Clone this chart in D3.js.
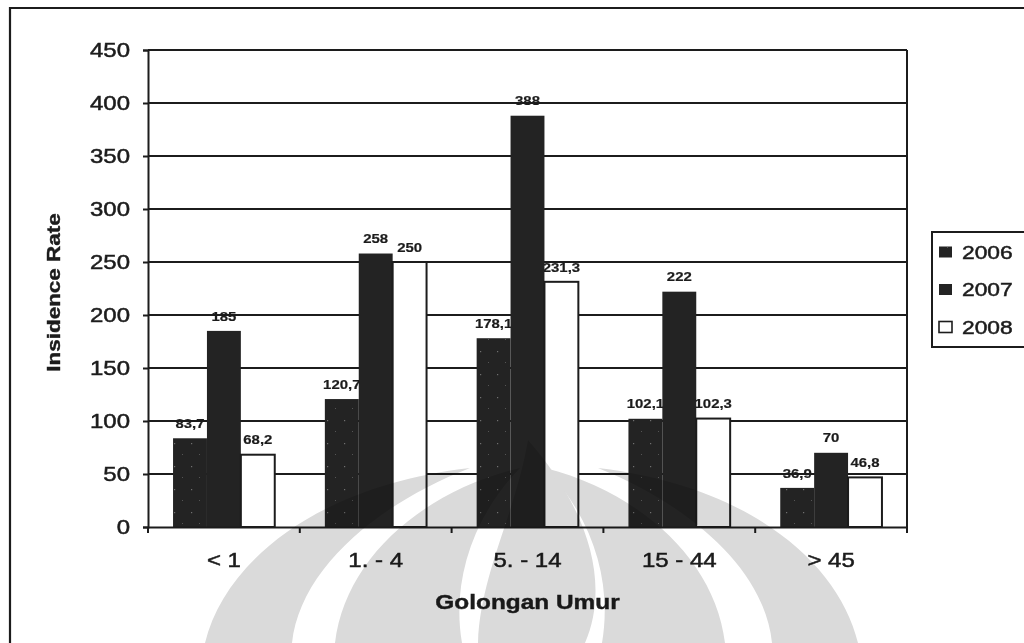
<!DOCTYPE html>
<html>
<head>
<meta charset="utf-8">
<script src="https://cdn.jsdelivr.net/npm/d3@7"></script>
<style>
  html, body { margin: 0; padding: 0; background: #fff; }
  svg { display: block; }
</style>
</head>
<body>
<svg id="chart" width="1024" height="643"></svg>
<script>
// Incidence rate per age group, 2006-2008
const categories = ["< 1", "1. - 4", "5. - 14", "15 - 44", "> 45"];
const years = ["2006", "2007", "2008"];
const values2006 = [83.7, 120.7, 178.1, 102.1, 36.9];
const values2007 = [185, 258, 388, 222, 70];
const values2008 = [68.2, 250, 231.3, 102.3, 46.8];
const yTicks = [0, 50, 100, 150, 200, 250, 300, 350, 400, 450];
const xTitle = "Golongan Umur";
const yTitle = "Insidence Rate";

const seriesValues = { "2006": values2006, "2007": values2007, "2008": values2008 };
const fmt = v => String(v).replace(".", ",");

const svg = d3.select("#chart");
const FONT = "'Liberation Sans', Arial, sans-serif";
const INK = "#1c1c1c";
const BAR = "#232323";

// text helper: wide glyphs drawn by stretching along the text direction
function label(parent, x, y, s, o = {}) {
  const g = parent.append("g")
    .attr("transform", `translate(${x},${y}) rotate(${o.rot || 0}) scale(${o.sx || 1},1)`);
  g.append("text")
    .attr("text-anchor", o.anchor || "middle")
    .attr("dy", "0.36em")
    .attr("fill", INK)
    .attr("stroke", INK)
    .attr("stroke-width", o.thick || 0.5)
    .style("font-family", FONT)
    .style("font-size", (o.size || 14) + "px")
    .style("font-weight", o.weight || "normal")
    .text(s);
  return g;
}

// pattern for the 2006 series: dark fill with sparse light specks
const defs = svg.append("defs");
const pat = defs.append("pattern").attr("id", "speck")
  .attr("width", 17).attr("height", 23).attr("patternUnits", "userSpaceOnUse");
pat.append("rect").attr("width", 17).attr("height", 23).attr("fill", BAR);
pat.append("rect").attr("x", 4).attr("y", 6).attr("width", 1.2).attr("height", 1.2).attr("fill", "#707070");
pat.append("rect").attr("x", 12).attr("y", 17).attr("width", 1).attr("height", 1).attr("fill", "#555");

// outer frame (top and left edges)
svg.append("path").attr("d", "M10,643 L10,8 L1024,8")
  .attr("fill", "none").attr("stroke", INK).attr("stroke-width", 2.2);

const plot = { left: 148, right: 907, top: 50, bottom: 527 };

const x0 = d3.scaleBand().domain(categories).range([plot.left, plot.right]);
const bw = x0.bandwidth();
const x1 = d3.scaleBand().domain(years).range([bw * 0.165, bw * 0.835]);
const y = d3.scaleLinear().domain([0, 450]).range([plot.bottom, plot.top]);

// gridlines
svg.append("g").selectAll("line").data(yTicks.filter(t => t > 0)).join("line")
  .attr("x1", plot.left).attr("x2", plot.right)
  .attr("y1", d => y(d)).attr("y2", d => y(d))
  .attr("stroke", INK).attr("stroke-width", 1.8);

// right border of plot area
svg.append("line").attr("x1", plot.right).attr("x2", plot.right)
  .attr("y1", y(450)).attr("y2", y(0)).attr("stroke", INK).attr("stroke-width", 2);

// records of each bar
const rows = [];
years.forEach(yr => categories.forEach((c, i) => rows.push({ year: yr, cat: c, v: seriesValues[yr][i] })));

// value labels (drawn beneath the bars, so neighbouring bars overlap them)
const labelG = svg.append("g");
rows.forEach(d => {
  label(labelG, x0(d.cat) + x1(d.year) + x1.bandwidth() / 2, y(d.v) - 15, fmt(d.v),
    { size: 13, weight: "bold", sx: 1.15, thick: 0.2 });
});

// bars
svg.append("g").selectAll("rect").data(rows).join("rect")
  .attr("x", d => x0(d.cat) + x1(d.year))
  .attr("y", d => y(d.v))
  .attr("width", x1.bandwidth())
  .attr("height", d => y(0) - y(d.v))
  .attr("fill", d => d.year === "2006" ? "url(#speck)" : d.year === "2007" ? BAR : "#fff")
  .attr("stroke", d => d.year === "2008" ? INK : "none")
  .attr("stroke-width", 2);

// y axis
const yAxis = svg.append("g").attr("transform", `translate(${plot.left},0)`)
  .call(d3.axisLeft(y).tickValues(yTicks).tickSize(5).tickFormat(""));
yAxis.selectAll("path, line").attr("stroke", INK).attr("stroke-width", 2);
yTicks.forEach(t => label(svg, 130, y(t), String(t), { size: 20, anchor: "end", sx: 1.2 }));

// x axis
const xAxis = svg.append("g").attr("transform", `translate(0,${plot.bottom})`)
  .call(d3.axisBottom(x0).tickSize(0).tickFormat(""));
xAxis.selectAll("path").attr("stroke", INK).attr("stroke-width", 2.2);
const bounds = categories.map(c => x0(c)).concat([plot.right]);
svg.append("g").selectAll("line").data(bounds).join("line")
  .attr("x1", d => d).attr("x2", d => d)
  .attr("y1", plot.bottom).attr("y2", plot.bottom + 6)
  .attr("stroke", INK).attr("stroke-width", 2);
categories.forEach(c => label(svg, x0(c) + bw / 2, 560, c, { size: 20, sx: 1.2 }));

// axis titles
label(svg, (plot.left + plot.right) / 2, 602, xTitle, { size: 20, weight: "bold", sx: 1.22, thick: 0.4 });
label(svg, 54, (plot.top + plot.bottom) / 2 + 4, yTitle, { size: 18, weight: "bold", sx: 1.25, rot: -90, thick: 0.4 });

// legend
const lg = svg.append("g");
lg.append("path").attr("d", "M1024,232 L932,232 L932,347 L1024,347")
  .attr("fill", "none").attr("stroke", INK).attr("stroke-width", 2);
years.forEach((yr, i) => {
  const cy = 252 + i * 37.5;
  lg.append("rect").attr("x", 939).attr("y", cy - 5.5).attr("width", 13).attr("height", 11)
    .attr("fill", yr === "2006" ? "url(#speck)" : yr === "2007" ? BAR : "#fff")
    .attr("stroke", yr === "2008" ? INK : "none").attr("stroke-width", 1.6);
  label(lg, 962, cy, yr, { size: 19, anchor: "start", sx: 1.2 });
});

// faint emblem in the background of the lower area
const mark = svg.append("g").style("mix-blend-mode", "multiply").attr("fill", "#dadada");
const shapes = [
  "M205,643 C225,560 320,485 470,468 C375,505 300,570 292,643 Z",
  "M335,643 C345,560 420,492 520,468 C470,520 452,585 462,643 Z",
  "M478,643 C480,575 515,515 528,440 C585,505 612,580 585,643 Z",
  "M858,643 C838,560 745,485 598,468 C690,505 765,570 772,643 Z",
  "M725,643 C715,560 640,492 545,468 C595,520 612,585 602,643 Z"
];
mark.selectAll("path").data(shapes).join("path").attr("d", d => d);
</script>
</body>
</html>
